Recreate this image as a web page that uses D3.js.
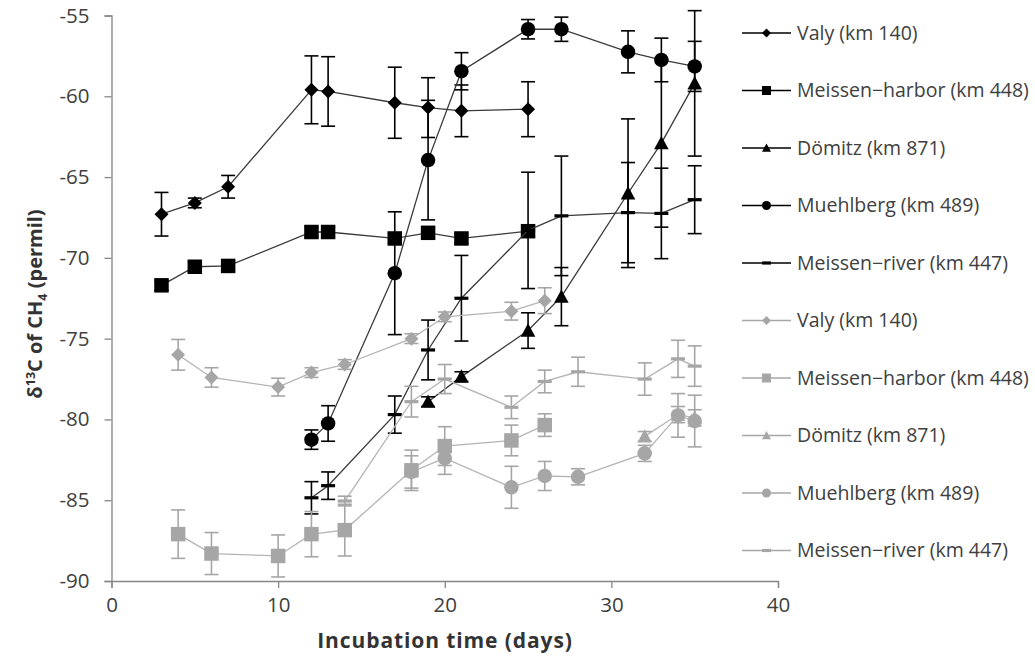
<!DOCTYPE html>
<html><head><meta charset="utf-8">
<script src="https://cdn.jsdelivr.net/npm/d3@7"></script>
<style>body{margin:0;background:#fff}</style>
</head><body>
<svg id="c" width="1035" height="661"></svg>
<script>
// ---------- data ----------
const seriesNames = ["Valy (km 140)", "Meissen\u2212harbor (km 448)", "Dömitz (km 871)", "Muehlberg (km 489)", "Meissen\u2212river (km 447)"];
const xTicks = [0, 10, 20, 30, 40];
const yTicks = [-90, -85, -80, -75, -70, -65, -60, -55];

// black series
const bValyX = [3, 5, 7, 12, 13, 17, 19, 21, 25];
const bValyY = [-67.3, -66.6, -65.6, -59.6, -59.7, -60.4, -60.7, -60.9, -60.8];
const bValyE = [1.35, 0.3, 0.7, 2.1, 2.15, 2.2, 1.85, 1.6, 1.7];

const bHarborX = [3, 5, 7, 12, 13, 17, 19, 21, 25];
const bHarborY = [-71.7, -70.55, -70.5, -68.4, -68.4, -68.8, -68.45, -68.8, -68.35];
const bHarborE = [0.3, 0.3, 0.3, 0.3, 0.3, 0.3, 0.3, 0.3, 0.3];

const bDomitzX = [19, 21, 25, 27, 31, 33, 35];
const bDomitzY = [-78.9, -77.35, -74.5, -72.4, -66.0, -62.9, -59.2];
const bDomitzE = [0.3, 0.3, 1.1, 1.8, 4.6, 5.2, 4.5];

const bMuehlX = [12, 13, 17, 19, 21, 25, 27, 31, 33, 35];
const bMuehlY = [-81.25, -80.25, -70.95, -63.95, -58.45, -55.85, -55.85, -57.25, -57.75, -58.15];
const bMuehlE = [0.6, 1.1, 3.8, 3.7, 1.15, 0.6, 0.75, 1.3, 1.35, 1.55];

const bRiverX = [12, 13, 17, 19, 21, 25, 27, 31, 33, 35];
const bRiverY = [-84.85, -84.1, -79.7, -75.7, -72.5, -68.3, -67.4, -67.2, -67.25, -66.4];
const bRiverE = [1.0, 0.85, 1.15, 1.85, 2.65, 3.6, 3.7, 3.1, 2.8, 2.1];

// grey series
const gValyX = [4, 6, 10, 12, 14, 18, 20, 24, 26];
const gValyY = [-76.0, -77.4, -78.0, -77.1, -76.6, -75.0, -73.65, -73.3, -72.65];
const gValyE = [0.95, 0.6, 0.55, 0.3, 0.3, 0.3, 0.3, 0.55, 0.8];

const gHarborX = [4, 6, 10, 12, 14, 18, 20, 24, 26];
const gHarborY = [-87.1, -88.3, -88.45, -87.1, -86.85, -83.15, -81.65, -81.3, -80.35];
const gHarborE = [1.5, 1.3, 1.3, 1.4, 1.6, 1.25, 1.2, 0.95, 0.7];

const gDomitzX = [32, 34, 35];
const gDomitzY = [-81.05, -79.7, -79.9];
const gDomitzE = [0.3, 0.5, 0.5];

const gMuehlX = [18, 20, 24, 26, 28, 32, 34, 35];
const gMuehlY = [-83.25, -82.4, -84.2, -83.5, -83.55, -82.1, -79.75, -80.1];
const gMuehlE = [1.0, 1.0, 1.3, 0.9, 0.5, 0.5, 1.35, 1.6];

const gRiverX = [14, 18, 20, 24, 26, 28, 32, 34, 35];
const gRiverY = [-85.05, -78.9, -77.5, -79.25, -77.65, -77.05, -77.5, -76.25, -76.7];
const gRiverE = [0.3, 0.95, 0.9, 0.7, 0.7, 0.9, 1.0, 1.15, 1.25];

// ---------- build ----------
const BLACK = "#000000", BLINE = "#3a3a3a", GREY = "#a6a6a6", GLINE = "#b4b4b4";
const shapes = ["diamond", "square", "triangle", "circle", "dash"];
function zip(xs, ys, es) { return xs.map((x, i) => ({x: x, y: ys[i], e: es[i]})); }
const series = [
  {name: seriesNames[0], shape: shapes[0], col: BLACK, line: BLINE, pts: zip(bValyX, bValyY, bValyE)},
  {name: seriesNames[1], shape: shapes[1], col: BLACK, line: BLINE, pts: zip(bHarborX, bHarborY, bHarborE)},
  {name: seriesNames[2], shape: shapes[2], col: BLACK, line: BLINE, pts: zip(bDomitzX, bDomitzY, bDomitzE)},
  {name: seriesNames[3], shape: shapes[3], col: BLACK, line: BLINE, pts: zip(bMuehlX, bMuehlY, bMuehlE)},
  {name: seriesNames[4], shape: shapes[4], col: BLACK, line: BLINE, pts: zip(bRiverX, bRiverY, bRiverE)},
  {name: seriesNames[0], shape: shapes[0], col: GREY, line: GLINE, pts: zip(gValyX, gValyY, gValyE)},
  {name: seriesNames[1], shape: shapes[1], col: GREY, line: GLINE, pts: zip(gHarborX, gHarborY, gHarborE)},
  {name: seriesNames[2], shape: shapes[2], col: GREY, line: GLINE, pts: zip(gDomitzX, gDomitzY, gDomitzE)},
  {name: seriesNames[3], shape: shapes[3], col: GREY, line: GLINE, pts: zip(gMuehlX, gMuehlY, gMuehlE)},
  {name: seriesNames[4], shape: shapes[4], col: GREY, line: GLINE, pts: zip(gRiverX, gRiverY, gRiverE)}
];

function markerPath(shape, s) {
  const h = s / 2;
  switch (shape) {
    case "diamond": return `M0,${-h}L${h},0L0,${h}L${-h},0Z`;
    case "square": return `M${-h},${-h}H${h}V${h}H${-h}Z`;
    case "triangle": return `M0,${-h}L${h},${h * 0.85}L${-h},${h * 0.85}Z`;
    case "circle": return `M${h},0A${h},${h} 0 1,1 ${-h},0A${h},${h} 0 1,1 ${h},0Z`;
    case "dash": return `M${-h},-1.6H${h}V1.6H${-h}Z`;
  }
}
const mSize = {diamond: 14, square: 14.5, triangle: 14.5, circle: 14.5, dash: 14};

const svg = d3.select("#c");
const x = d3.scaleLinear().domain([0, 40]).range([111.5, 778]);
const y = d3.scaleLinear().domain([-90, -55]).range([581, 15.5]);
const FONT = "Open Sans, Lato, sans-serif";
const AXC = "#868686";

// axes
const gx = svg.append("g").attr("transform", `translate(0,${y(-90)})`)
  .call(d3.axisBottom(x).tickValues(xTicks).tickSize(7).tickPadding(9).tickFormat(d3.format("d")));
const gy = svg.append("g").attr("transform", `translate(${x(0)},0)`)
  .call(d3.axisLeft(y).tickValues(yTicks).tickSize(7).tickPadding(15).tickFormat(d => d3.format("d")(d).replace("\u2212", "-")));
[gx, gy].forEach(g => {
  g.selectAll("path, line").attr("stroke", AXC).attr("stroke-width", 1.3);
  g.selectAll("text").attr("font-family", FONT).attr("font-size", 20.5).attr("fill", "#404040");
});

// series
const lineGen = d3.line().x(d => x(d.x)).y(d => y(d.y));
const plot = svg.append("g");
series.forEach(s => {
  const g = plot.append("g");
  g.append("path").attr("d", lineGen(s.pts)).attr("fill", "none")
    .attr("stroke", s.line).attr("stroke-width", 1.3);
  const eb = g.append("g").attr("stroke", s.col).attr("stroke-width", 1.6);
  s.pts.forEach(p => {
    const x0 = x(p.x), y1 = y(p.y + p.e), y2 = y(p.y - p.e);
    eb.append("line").attr("x1", x0).attr("x2", x0).attr("y1", y1).attr("y2", y2);
    eb.append("line").attr("x1", x0 - 7).attr("x2", x0 + 7).attr("y1", y1).attr("y2", y1);
    eb.append("line").attr("x1", x0 - 7).attr("x2", x0 + 7).attr("y1", y2).attr("y2", y2);
  });
  g.selectAll("path.m").data(s.pts).enter().append("path").attr("class", "m")
    .attr("d", markerPath(s.shape, mSize[s.shape]))
    .attr("transform", d => `translate(${x(d.x)},${y(d.y)})`)
    .attr("fill", s.col);
});

// legend
const leg = svg.append("g").attr("transform", "translate(742,33)");
series.forEach((s, i) => {
  const r = leg.append("g").attr("transform", `translate(0,${i * 57.5})`);
  r.append("line").attr("x1", 0).attr("x2", 49).attr("y1", 0).attr("y2", 0)
    .attr("stroke", s.col === BLACK ? BLACK : GREY).attr("stroke-width", 1.3);
  r.append("path").attr("d", markerPath(s.shape, 9)).attr("transform", "translate(24.5,0)")
    .attr("fill", s.col);
  r.append("text").attr("x", 55).attr("y", 0).attr("dy", "0.35em")
    .attr("font-family", FONT).attr("font-size", 19.5).attr("fill", "#404040")
    .text(s.name);
});

// axis titles
svg.append("text").attr("x", 445).attr("y", 648).attr("text-anchor", "middle")
  .attr("font-family", FONT).attr("font-weight", "bold").attr("font-size", 21).attr("fill", "#333")
  .attr("letter-spacing", 0.9)
  .text("Incubation time (days)");
const yt = svg.append("text").attr("transform", `translate(42,304) rotate(-90)`)
  .attr("text-anchor", "middle").attr("font-family", FONT).attr("font-weight", "bold")
  .attr("font-size", 20).attr("fill", "#333");
yt.append("tspan").text("\u03b4");
yt.append("tspan").attr("font-size", 12.5).attr("dy", -7).text("13");
yt.append("tspan").attr("dy", 7).text("C of CH");
yt.append("tspan").attr("font-size", 12.5).attr("dy", 5).text("4");
yt.append("tspan").attr("dy", -5).text(" (permil)");
</script>
</body></html>
